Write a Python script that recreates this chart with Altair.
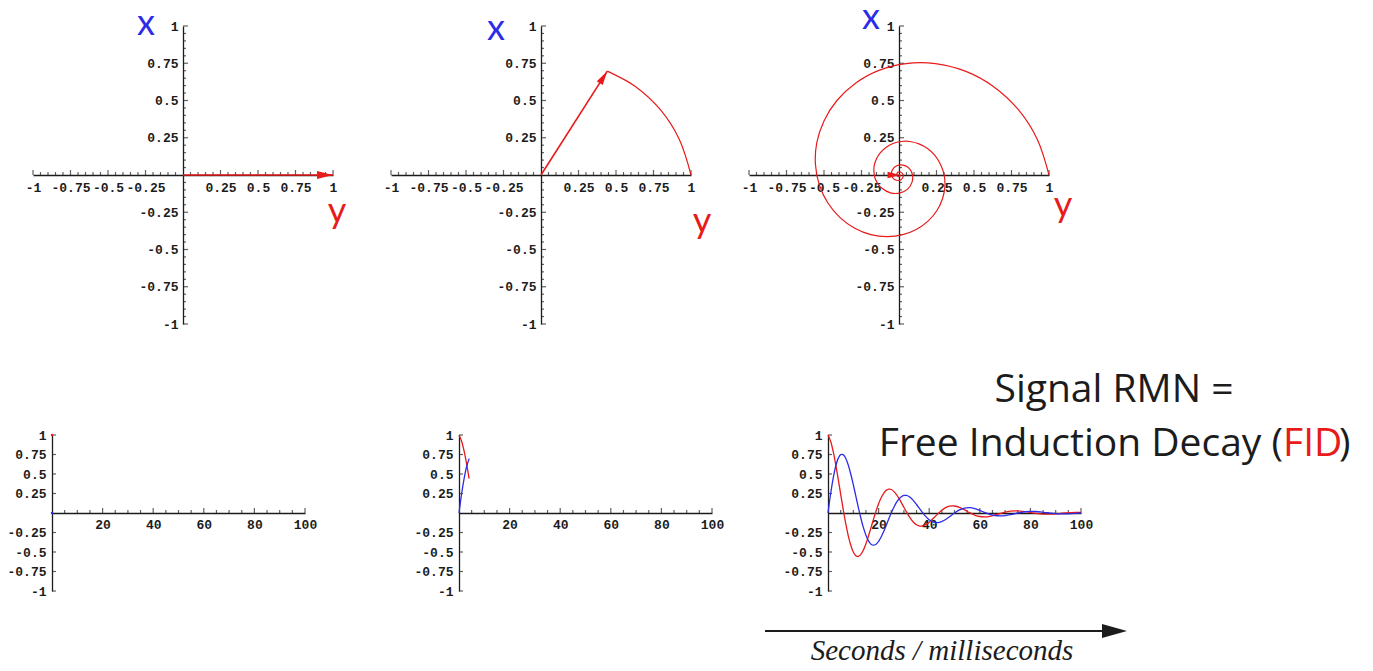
import math
import altair as alt
import pandas as pd

# Sampling times of the free precession (ms)
T_MS = [0, 1, 2, 3, 4, 5, 6, 7, 8, 9, 10, 11, 12, 13, 14, 15, 16, 17, 18, 19, 20,
        21, 22, 23, 24, 25, 26, 27, 28, 29, 30, 31, 32, 33, 34, 35, 36, 37, 38, 39, 40,
        42, 44, 46, 48, 50, 52, 54, 56, 58, 60, 62, 64, 66, 68, 70, 72, 74, 76, 78, 80,
        82, 84, 86, 88, 90, 92, 94, 96, 98, 100]
# Transverse magnetisation: M_y (red) and M_x (blue)
M_Y = [1.000, 0.923, 0.796, 0.631, 0.442, 0.243, 0.047, -0.134, -0.290, -0.414, -0.500,
       -0.548, -0.557, -0.531, -0.474, -0.393, -0.295, -0.188, -0.079, 0.025, 0.118,
       0.195, 0.253, 0.290, 0.306, 0.301, 0.277, 0.239, 0.190, 0.133, 0.073,
       0.014, -0.040, -0.087, -0.124, -0.150, -0.165, -0.167, -0.160, -0.143, -0.118,
       -0.057, 0.008, 0.059, 0.087, 0.090, 0.072, 0.040, 0.004, -0.026, -0.045,
       -0.050, -0.043, -0.027, -0.007, 0.011, 0.023, 0.028, 0.025, 0.017, 0.007,
       -0.004, -0.011, -0.015, -0.014, -0.011, -0.005, 0.001, 0.005, 0.008, 0.008]
M_X = [0.000, 0.237, 0.438, 0.593, 0.697, 0.748, 0.748, 0.702, 0.616, 0.500, 0.363,
       0.217, 0.070, -0.067, -0.188, -0.286, -0.357, -0.400, -0.413, -0.400, -0.364,
       -0.308, -0.238, -0.159, -0.078, 0.000, 0.071, 0.132, 0.178, 0.209, 0.225,
       0.225, 0.211, 0.185, 0.150, 0.109, 0.065, 0.021, -0.020, -0.056, -0.086,
       -0.120, -0.120, -0.093, -0.048, 0.000, 0.040, 0.063, 0.068, 0.056, 0.033,
       0.006, -0.017, -0.032, -0.037, -0.033, -0.022, -0.007, 0.006, 0.016, 0.020,
       0.019, 0.014, 0.006, -0.002, -0.008, -0.011, -0.011, -0.008, -0.004, 0.000]

# Snapshot times shown in the three columns
SNAPSHOT_MS = [0, 4, 100]

# Axis ticks
PHASE_TICKS = [-1, -0.75, -0.5, -0.25, 0.25, 0.5, 0.75, 1]
PHASE_MINOR = [round(0.05 * i, 2) for i in range(-20, 21) if i % 5]
TIME_TICKS = [20, 40, 60, 80, 100]
TIME_MINOR = [5, 10, 15, 25, 30, 35, 45, 50, 55, 65, 70, 75, 85, 90, 95]

# Texts
AXIS_NAMES = ["x", "y"]
TITLE_LINE1 = "Signal RMN ="
TITLE_LINE2 = ["Free Induction Decay (", "FID", ")"]
TIME_CAPTION = "Seconds / milliseconds"

RED = "#e81a1a"
BLUE = "#2c2ce8"
INK = "#1c1c1c"

TOP_W, TOP_H = 300, 298
BOT_W, BOT_H = 253, 156
ARROW = "M0,0L-2,-0.5L-2,0.5Z"
NAME_FONT = "Lato"
HEAD_FONT = "Open Sans"

signal = pd.DataFrame({"t": T_MS, "my": M_Y, "mx": M_X})
one = pd.DataFrame({"k": [0]})

LABEL_STYLE = dict(
    labelFont="Liberation Mono", labelFontSize=13, labelFontWeight="bold",
    labelColor=INK, labelOverlap=False, labelFlush=False, ticks=False, tickSize=0,
    grid=False, domainColor=INK, domainWidth=1.3, title=None,
    labelExpr="(datum.value < 0 ? '-' : '') + format(abs(datum.value), '')",
)


def ticks(vals, xs, ys, xa, ya, along, length):
    df = pd.DataFrame({"v": vals, "z": [0] * len(vals)})
    if along == "x":
        return alt.Chart(df).mark_tick(
            orient="vertical", size=length, thickness=1.2, color=INK, yOffset=-length / 2
        ).encode(x=alt.X("v:Q", scale=xs, axis=xa), y=alt.Y("z:Q", scale=ys, axis=ya))
    return alt.Chart(df).mark_tick(
        orient="horizontal", size=length, thickness=1.2, color=INK, xOffset=length / 2
    ).encode(x=alt.X("z:Q", scale=xs, axis=xa), y=alt.Y("v:Q", scale=ys, axis=ya))


def name_label(text, color, px, py, size=36):
    return alt.Chart(one).mark_text(
        font=NAME_FONT, fontSize=size, color=color, align="center", baseline="alphabetic"
    ).encode(x=alt.value(px), y=alt.value(py), text=alt.value(text))


def phase_panel(t_end, x_at, y_at, head_size):
    xs = alt.Scale(domain=[-1, 1], nice=False, zero=False)
    ys = alt.Scale(domain=[-1, 1], nice=False, zero=False)
    xa = alt.Axis(values=PHASE_TICKS, offset=-TOP_H / 2, labelPadding=6, **LABEL_STYLE)
    ya = alt.Axis(values=PHASE_TICKS, offset=-TOP_W / 2, labelPadding=5, **LABEL_STYLE)
    layers = [
        ticks(PHASE_TICKS, xs, ys, xa, ya, "x", 5),
        ticks(PHASE_MINOR, xs, ys, xa, ya, "x", 3),
        ticks(PHASE_TICKS, xs, ys, xa, ya, "y", 5),
        ticks(PHASE_MINOR, xs, ys, xa, ya, "y", 3),
    ]
    path = signal[signal.t <= t_end]
    if len(path) > 1:
        layers.append(
            alt.Chart(path).mark_line(color=RED, strokeWidth=1.2, interpolate="catmull-rom").encode(
                x=alt.X("my:Q", scale=xs, axis=xa),
                y=alt.Y("mx:Q", scale=ys, axis=ya),
                order="t:Q",
            )
        )
    tip = path.iloc[-1]
    vec = pd.DataFrame({"h": [0.0, float(tip.my)], "v": [0.0, float(tip.mx)], "s": [0, 1]})
    layers.append(
        alt.Chart(vec).mark_line(color=RED, strokeWidth=1.6).encode(
            x=alt.X("h:Q", scale=xs, axis=xa), y=alt.Y("v:Q", scale=ys, axis=ya), order="s:Q"
        )
    )
    ang = (360 - math.degrees(math.atan2(float(tip.mx), float(tip.my)))) % 360
    layers.append(
        alt.Chart(vec.tail(1)).mark_point(
            shape=ARROW, filled=True, size=head_size, color=RED, opacity=1,
            strokeWidth=0, angle=float(ang)
        ).encode(x=alt.X("h:Q", scale=xs, axis=xa), y=alt.Y("v:Q", scale=ys, axis=ya))
    )
    layers.append(name_label(AXIS_NAMES[0], BLUE, *x_at))
    layers.append(name_label(AXIS_NAMES[1], RED, *y_at))
    return alt.layer(*layers).properties(width=TOP_W, height=TOP_H)


def signal_panel(t_end, extra=()):
    xs = alt.Scale(domain=[0, 100], nice=False, zero=False)
    ys = alt.Scale(domain=[-1, 1], nice=False, zero=False)
    xa = alt.Axis(values=TIME_TICKS, offset=-BOT_H / 2, labelPadding=5, **LABEL_STYLE)
    ya = alt.Axis(values=PHASE_TICKS, offset=0, labelPadding=6, **LABEL_STYLE)
    layers = [
        ticks(TIME_TICKS, xs, ys, xa, ya, "x", 5),
        ticks(TIME_MINOR, xs, ys, xa, ya, "x", 3),
        ticks(PHASE_TICKS, xs, ys, xa, ya, "y", 4),
    ]
    part = signal[signal.t <= t_end]
    for field, col in (("my", RED), ("mx", BLUE)):
        enc = dict(x=alt.X("t:Q", scale=xs, axis=xa), y=alt.Y(f"{field}:Q", scale=ys, axis=ya))
        if len(part) > 1:
            layers.append(
                alt.Chart(part).mark_line(color=col, strokeWidth=1.3, interpolate="catmull-rom").encode(**enc)
            )
        else:
            layers.append(alt.Chart(part).mark_circle(color=col, size=6, opacity=1).encode(**enc))
    layers.extend(extra)
    return alt.layer(*layers).properties(width=BOT_W, height=BOT_H)


def head_text(text, color, align, px, py):
    return alt.Chart(one).mark_text(
        font=HEAD_FONT, fontSize=39, color=color, align=align, baseline="alphabetic"
    ).encode(x=alt.value(px), y=alt.value(py), text=alt.value(text))


# Heading and time arrow, placed beside the last signal panel
fid_extra = [
    head_text(TITLE_LINE1, INK, "center", 286, -33),
    head_text(TITLE_LINE2[0], INK, "right", 455, 21),
    head_text(TITLE_LINE2[1], RED, "left", 455, 21),
    head_text(TITLE_LINE2[2], INK, "left", 511, 21),
    alt.Chart(one).mark_rule(color=INK, strokeWidth=1.8).encode(
        x=alt.value(-63), x2=alt.value(280), y=alt.value(196)),
    alt.Chart(one).mark_point(shape="M0,0L-2,-0.56L-2,0.56Z", size=625, filled=True,
                              color=INK, opacity=1, strokeWidth=0).encode(
        x=alt.value(299), y=alt.value(196)),
    alt.Chart(one).mark_text(font="Liberation Serif", fontStyle="italic", fontSize=29,
                             color=INK, align="center", baseline="alphabetic").encode(
        x=alt.value(114), y=alt.value(225), text=alt.value(TIME_CAPTION)),
]


def spacer(w, h=1):
    return alt.Chart(one).mark_point(opacity=0).encode(
        x=alt.X("k:Q", axis=None), y=alt.Y("k:Q", axis=None)
    ).properties(width=w, height=h)


top = alt.hconcat(
    phase_panel(SNAPSHOT_MS[0], (113, 9), (304, 197), 256), spacer(58),
    phase_panel(SNAPSHOT_MS[1], (105, 14), (311, 207), 200), spacer(58),
    phase_panel(SNAPSHOT_MS[2], (122, 3), (314, 191), 160),
    spacing=0, bounds="flush",
)
bottom = alt.hconcat(
    spacer(19),
    signal_panel(SNAPSHOT_MS[0]), spacer(154),
    signal_panel(SNAPSHOT_MS[1]), spacer(116),
    signal_panel(SNAPSHOT_MS[2], fid_extra),
    spacing=0, bounds="flush",
)

chart = alt.vconcat(top, bottom, spacing=40).properties(
    padding={"left": 6, "top": 0, "right": 0, "bottom": 0}
).configure_view(stroke=None)

chart.save("out.html", embed_options={"renderer": "svg", "actions": False})
